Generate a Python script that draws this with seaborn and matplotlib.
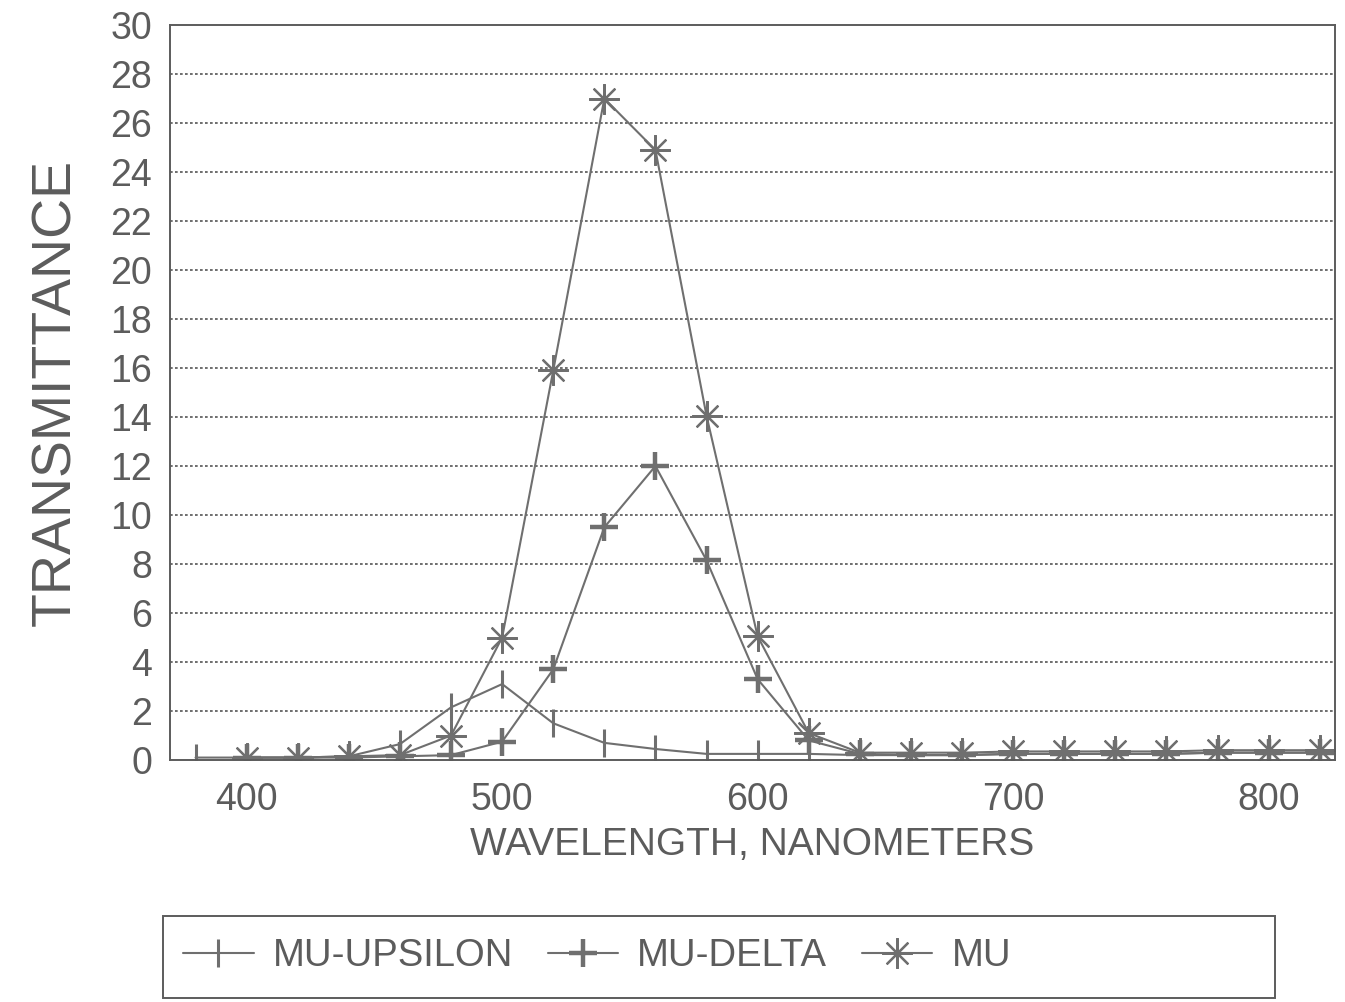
import numpy as np
import pandas as pd
import matplotlib
matplotlib.use("Agg")
import matplotlib.pyplot as plt
from matplotlib.ticker import MultipleLocator, FuncFormatter
from matplotlib.lines import Line2D
from matplotlib.patches import Rectangle
import seaborn as sns

# Spectral transmittance of three filter samples, sampled every 20 nm
wavelength = [380, 400, 420, 440, 460, 480, 500, 520, 540, 560, 580, 600,
              620, 640, 660, 680, 700, 720, 740, 760, 780, 800, 820]
mu_upsilon = [0.1, 0.1, 0.1, 0.15, 0.65, 2.15, 3.1, 1.5, 0.7, 0.45, 0.25, 0.25,
              0.25, 0.2, 0.2, 0.2, 0.25, 0.25, 0.25, 0.25, 0.3, 0.3, 0.3]
mu_delta = [np.nan, 0.1, 0.1, 0.1, 0.15, 0.2, 0.75, 3.7, 9.5, 12.0, 8.15, 3.3,
            0.8, 0.25, 0.2, 0.2, 0.25, 0.25, 0.25, 0.25, 0.3, 0.3, 0.3]
mu = [np.nan, 0.1, 0.1, 0.15, 0.2, 1.0, 5.0, 15.9, 27.0, 24.9, 14.05, 5.05,
      1.1, 0.3, 0.3, 0.3, 0.35, 0.35, 0.35, 0.35, 0.4, 0.4, 0.4]
series_names = ["MU-UPSILON", "MU-DELTA", "MU"]

df = pd.DataFrame({"wavelength": wavelength, "MU-UPSILON": mu_upsilon,
                   "MU-DELTA": mu_delta, "MU": mu})

sns.set_style("white")
plt.rcParams["font.family"] = ["Liberation Sans", "DejaVu Sans"]

INK = "#5c5c5c"
LINE = "#6f6f6f"

W, H = 1345, 1002
fig = plt.figure(figsize=(W / 100, H / 100), dpi=100)
fig.patch.set_facecolor("white")
ax = fig.add_axes([0.1264, 0.2415, 0.8662, 0.7335])

styles = {
    "MU-UPSILON": dict(marker="|", markersize=20, markeredgewidth=2.2),
    "MU-DELTA": dict(marker="+", markersize=20, markeredgewidth=3.2),
    "MU": dict(marker=(8, 2, 0), markersize=22, markeredgewidth=1.6),
}

for name in series_names:
    sub = df[["wavelength", name]].dropna()
    sns.lineplot(data=sub, x="wavelength", y=name, ax=ax, color=LINE,
                 linewidth=1.5, markeredgecolor=LINE, markerfacecolor=LINE,
                 estimator=None, sort=False, **styles[name])

ax.set_xlim(370, 826)
ax.set_ylim(0, 30)
ax.xaxis.set_major_locator(MultipleLocator(20))
ax.xaxis.set_major_formatter(FuncFormatter(
    lambda v, p: f"{int(round(v))}" if int(round(v)) % 100 == 0 else ""))
ax.yaxis.set_major_locator(MultipleLocator(2))

ax.tick_params(axis="both", direction="out", colors=INK, labelcolor=INK,
               width=1.3, labelsize=27)
ax.tick_params(axis="x", length=9, pad=7)
ax.tick_params(axis="y", length=10, pad=3)

for s in ax.spines.values():
    s.set_visible(True)
    s.set_color(INK)
    s.set_linewidth(1.4)

# dotted horizontal grid at every labelled value
for yv in range(2, 30, 2):
    ax.axhline(yv, color="#555555", linewidth=1.2, linestyle=(0, (1.6, 1.4)),
               zorder=0)

ax.set_xlabel("WAVELENGTH, NANOMETERS", fontsize=28, color=INK, labelpad=6)
ax.set_ylabel("TRANSMITTANCE", fontsize=40, color=INK, labelpad=20)

# legend box spanning below the plot, entries packed at its left
fig.add_artist(Rectangle((163 / W, 1 - 998 / H), 1112 / W, 82 / H,
                         transform=fig.transFigure, fill=False,
                         edgecolor=INK, linewidth=1.4))
handles = [Line2D([0], [0], color=LINE, linewidth=1.5, markeredgecolor=LINE,
                  markerfacecolor=LINE, **styles[n]) for n in series_names]
leg = fig.legend(handles, series_names, loc="upper left",
                 bbox_to_anchor=(183 / W, 1 - 938 / H),
                 ncol=3, fontsize=27.5, frameon=False,
                 handlelength=1.85, handletextpad=0.5,
                 borderpad=0, borderaxespad=0, columnspacing=0.9)
for t in leg.get_texts():
    t.set_color(INK)

fig.savefig("out.png", dpi=100, facecolor="white")
